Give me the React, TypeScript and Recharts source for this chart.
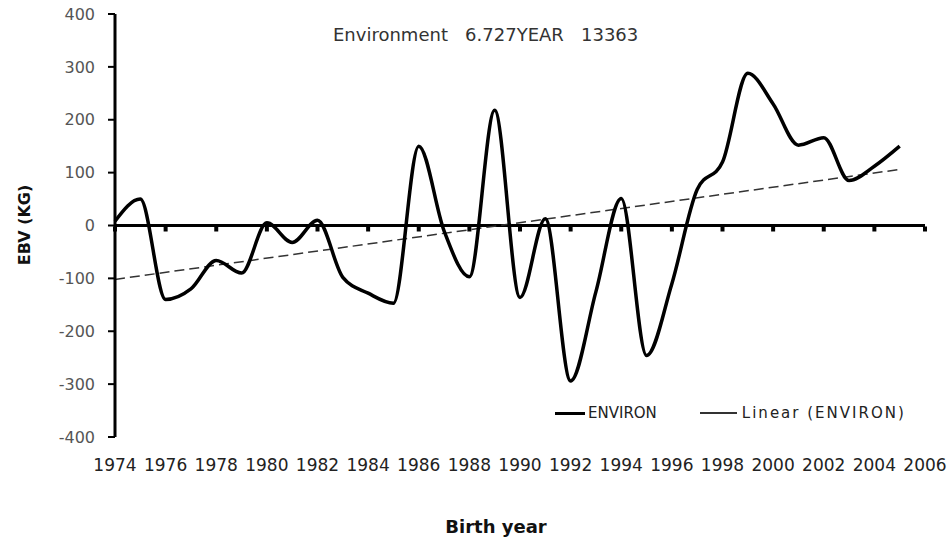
import { LineChart, Line, XAxis, YAxis, ReferenceLine, ReferenceDot, Label } from "recharts";

// yearly EBV for the environment effect
const YEARS = [
  1974, 1975, 1976, 1977, 1978, 1979, 1980, 1981, 1982, 1983, 1984,
  1985, 1986, 1987, 1988, 1989, 1990, 1991, 1992, 1993, 1994, 1995,
  1996, 1997, 1998, 1999, 2000, 2001, 2002, 2003, 2004, 2005,
];
const ENVIRON = [
  8, 50, -140, -120, -66, -90, 5, -32, 10, -98, -128,
  -147, 150, -10, -97, 218, -136, 13, -294, -125, 51, -246,
  -110, 68, 120, 288, 230, 152, 166, 85, 112, 150,
];

// linear trend end points
const TREND_YEARS = [1974, 2005];
const TREND = [-102, 106];

const X_TICKS = [
  1974, 1976, 1978, 1980, 1982, 1984, 1986, 1988, 1990,
  1992, 1994, 1996, 1998, 2000, 2002, 2004, 2006,
];
const Y_TICKS = [-400, -300, -200, -100, 0, 100, 200, 300, 400];

const TITLE = "Environment   6.727YEAR   13363";
const SERIES_NAME = "ENVIRON";
const TREND_NAME = "Linear (ENVIRON)";

const FONT = "'DejaVu Sans', 'Liberation Sans', sans-serif";

const data = YEARS.map((year, i) => ({ year, environ: ENVIRON[i] }));
const trendData = TREND_YEARS.map((year, i) => ({ year, trend: TREND[i] }));

const TickMark = (props: any) => (
  <rect x={props.cx - 2} y={props.cy + 1} width={4} height={5} fill="#000" />
);

export default function App() {
  return (
    <div style={{ position: "absolute", left: 0, top: 0, width: 948, height: 539, background: "#fff", fontFamily: FONT }}>
      <LineChart width={948} height={539} margin={{ top: 14, right: 23, bottom: 0, left: 0 }}>
        <XAxis
          type="number"
          dataKey="year"
          domain={[1974, 2006]}
          ticks={X_TICKS}
          interval={0}
          axisLine={false}
          tickLine={false}
          tickSize={0}
          tickMargin={22}
          height={102}
          tick={{ fontSize: 17, fill: "#222", fontFamily: FONT }}
          allowDuplicatedCategory={false}
        >
          <Label
            content={() => (
              <text x={496} y={526} textAnchor="middle" dominantBaseline="central" fontSize={18} fontWeight="bold" fontFamily={FONT} fill="#111">
                Birth year
              </text>
            )}
          />
        </XAxis>
        <YAxis
          type="number"
          domain={[-400, 400]}
          ticks={Y_TICKS}
          interval={0}
          width={115}
          axisLine={{ stroke: "#000", strokeWidth: 3 }}
          tickLine={{ stroke: "#000", strokeWidth: 2 }}
          tickSize={7}
          tickMargin={13}
          tick={{ fontSize: 16, fill: "#555", fontFamily: FONT }}
        >
          <Label
            content={() => (
              <text
                x={24}
                y={225}
                transform="rotate(-90 24 225)"
                textAnchor="middle"
                dominantBaseline="central"
                fontSize={16}
                fontWeight="bold"
                fontFamily={FONT}
                fill="#111"
              >
                EBV (KG)
              </text>
            )}
          />
        </YAxis>
        <ReferenceLine y={0} stroke="#000" strokeWidth={3} />
        {X_TICKS.map((t) => (
          <ReferenceDot key={t} x={t} y={0} r={2} shape={TickMark} />
        ))}
        <Line
          data={trendData}
          dataKey="trend"
          type="linear"
          stroke="#333"
          strokeWidth={1.5}
          strokeDasharray="10 5"
          dot={false}
          isAnimationActive={false}
        />
        <Line
          data={data}
          dataKey="environ"
          type="monotone"
          stroke="#000"
          strokeWidth={3.5}
          dot={false}
          isAnimationActive={false}
        />
      </LineChart>

      <div style={{ position: "absolute", left: 333, top: 24, fontSize: 18, color: "#333", whiteSpace: "pre", lineHeight: "22px" }}>
        {TITLE}
      </div>

      <div style={{ position: "absolute", left: 555, top: 403, display: "flex", alignItems: "center", fontSize: 15, color: "#222", lineHeight: "20px" }}>
        <span style={{ display: "inline-block", width: 30, height: 3, background: "#000", marginRight: 3 }} />
        <span>{SERIES_NAME}</span>
        <span style={{ display: "inline-block", width: 37, height: 1.5, background: "#333", marginLeft: 43, marginRight: 5 }} />
        <span style={{ letterSpacing: 2 }}>{TREND_NAME}</span>
      </div>
    </div>
  );
}
